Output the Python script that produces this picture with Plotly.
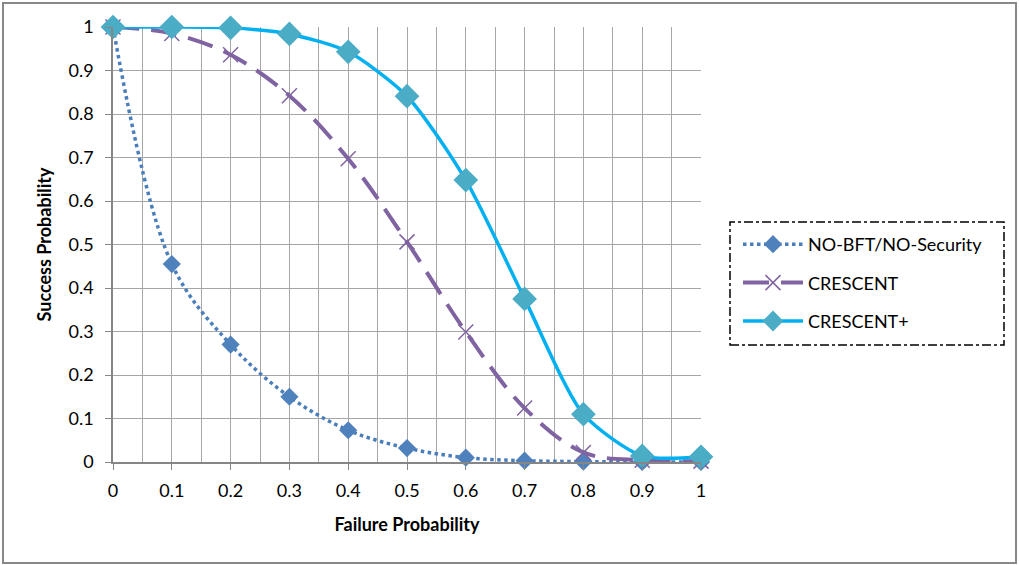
import plotly.graph_objects as go

x_vals = [0, 0.1, 0.2, 0.3, 0.4, 0.5, 0.6, 0.7, 0.8, 0.9, 1.0]
no_bft = [1.0, 0.455, 0.27, 0.15, 0.073, 0.032, 0.01, 0.003, 0.001, 0.0, 0.0]
crescent = [1.0, 0.985, 0.936, 0.842, 0.697, 0.506, 0.299, 0.124, 0.022, 0.004, 0.002]
crescent_plus = [1.0, 1.0, 0.998, 0.984, 0.943, 0.841, 0.648, 0.375, 0.11, 0.014, 0.012]
tick_vals_x = [0, 0.1, 0.2, 0.3, 0.4, 0.5, 0.6, 0.7, 0.8, 0.9, 1]
tick_text_x = ["0", "0.1", "0.2", "0.3", "0.4", "0.5", "0.6", "0.7", "0.8", "0.9", "1"]
tick_vals_y = [0, 0.1, 0.2, 0.3, 0.4, 0.5, 0.6, 0.7, 0.8, 0.9, 1]
tick_text_y = ["0", "0.1", "0.2", "0.3", "0.4", "0.5", "0.6", "0.7", "0.8", "0.9", "1"]

FONT = "Lato, 'Open Sans', sans-serif"
FS = 18

fig = go.Figure()
fig.add_trace(go.Scatter(
    x=x_vals, y=no_bft, name="NO-BFT/NO-Security", legendgroup="a", cliponaxis=False,
    mode="lines+markers", line=dict(color="#4A7EBB", width=3.5, dash="dot", shape="spline"),
    marker=dict(symbol="diamond", size=14, color="#4F81BD"),
))
fig.add_trace(go.Scatter(
    x=x_vals, y=crescent, name="CRESCENT", legendgroup="b", cliponaxis=False,
    mode="lines+markers", line=dict(color="#8064A2", width=4, dash="26px,12px", shape="spline"),
    marker=dict(symbol="x-thin-open", size=15, color="#8064A2", line=dict(width=1.5, color="#8064A2")),
))
fig.add_trace(go.Scatter(
    x=x_vals, y=crescent_plus, name="CRESCENT+", legendgroup="c", cliponaxis=False,
    mode="lines+markers", line=dict(color="#00B0F0", width=3.5, shape="spline", smoothing=0.7),
    marker=dict(symbol="diamond", size=19, color="#4BACC6"),
))

L, R, T, B = 113, 318, 27, 103
PW, PH = 1019 - L - R, 565 - T - B

def px(xp):
    return (xp - L) / PW

def py(yp):
    return (565 - B - yp) / PH

fig.update_layout(
    width=1019, height=565,
    margin=dict(l=L, r=R, t=T, b=B, autoexpand=False),
    paper_bgcolor="white", plot_bgcolor="white",
    font=dict(family=FONT, size=FS, color="#000000"),
    legend=dict(
        x=px(738), y=py(226), xanchor="left", yanchor="top",
        bgcolor="rgba(0,0,0,0)", borderwidth=0,
        font=dict(family=FONT, size=FS, color="#000000"),
        tracegroupgap=12, traceorder="grouped", itemwidth=60,
    ),
    shapes=[
        dict(type="rect", xref="paper", yref="paper",
             x0=px(730), x1=px(1004), y0=py(345), y1=py(222),
             line=dict(color="#000000", width=1.5, dash="dashdot"), fillcolor="rgba(0,0,0,0)"),
        dict(type="rect", xref="paper", yref="paper",
             x0=px(3), x1=px(1016), y0=py(563), y1=py(3),
             line=dict(color="#888888", width=2), fillcolor="rgba(0,0,0,0)", layer="below"),
    ],
)
fig.update_xaxes(
    range=[0, 1], tickvals=tick_vals_x, ticktext=tick_text_x,
    showgrid=True, gridcolor="#A6A6A6", gridwidth=1.3,
    minor=dict(dtick=0.05, tick0=0, showgrid=True, gridcolor="#A6A6A6", gridwidth=1.3),
    showline=True, linecolor="#868686", linewidth=1.5,
    ticks="outside", ticklen=6, tickcolor="#868686", ticklabelstandoff=6,
    tickfont=dict(family=FONT, size=FS, color="#000000"),
    title=dict(text="<b>Failure Probability</b>", font=dict(family=FONT, size=FS), standoff=18),
    zeroline=False,
)
fig.update_yaxes(
    range=[0, 1], tickvals=tick_vals_y, ticktext=tick_text_y,
    showgrid=True, gridcolor="#A6A6A6", gridwidth=1.3,
    showline=True, linecolor="#868686", linewidth=1.5,
    ticks="outside", ticklen=6, tickcolor="#868686", ticklabelstandoff=8,
    tickfont=dict(family=FONT, size=FS, color="#000000"),
    title=dict(text="<b>Success Probability</b>", font=dict(family=FONT, size=FS), standoff=12),
    zeroline=False,
)

fig.write_html("out.html")
